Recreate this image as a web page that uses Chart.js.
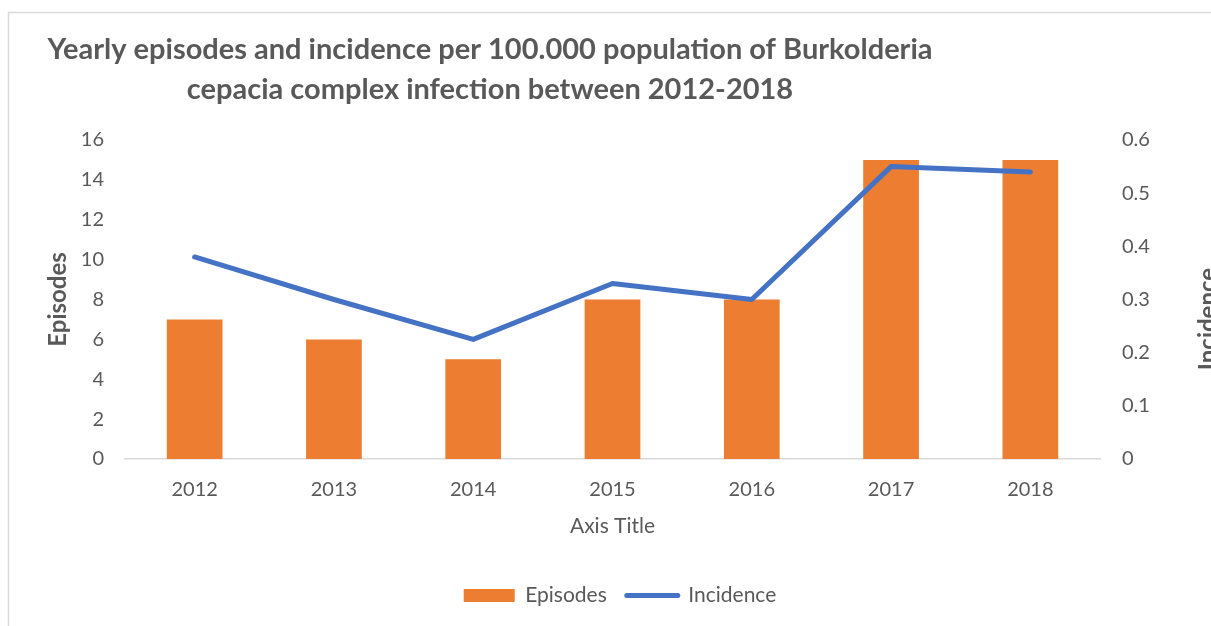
<!DOCTYPE html>
<html>
<head>
<meta charset="utf-8">
<script src="https://cdn.jsdelivr.net/npm/chart.js@4.4.1/dist/chart.umd.min.js"></script>
<style>
  html, body { margin: 0; padding: 0; background: #fff; overflow: hidden; }
  canvas { display: block; }
</style>
</head>
<body>
<canvas id="chart" width="1240" height="626"></canvas>
<script>
const years = ['2012', '2013', '2014', '2015', '2016', '2017', '2018'];
const episodes = [7, 6, 5, 8, 8, 15, 15];
const incidence = [0.38, 0.30, 0.225, 0.33, 0.30, 0.55, 0.54];
const titleLines = [
  'Yearly episodes and incidence per 100.000 population of Burkolderia',
  'cepacia complex infection between 2012-2018'
];

const textColor = '#595959';
const fontFamily = 'Lato, "Open Sans", sans-serif';

// title, right axis title and the outer frame are drawn here
const chartDecor = {
  id: 'chartDecor',
  beforeDraw(chart) {
    const ctx = chart.ctx;
    ctx.save();
    ctx.fillStyle = '#fff';
    ctx.fillRect(0, 0, chart.width, chart.height);
    ctx.strokeStyle = '#d9d9d9';
    ctx.lineWidth = 1.5;
    ctx.strokeRect(8.5, 12.5, chart.width + 20, chart.height + 20);
    ctx.restore();
  },
  afterDraw(chart) {
    const ctx = chart.ctx;
    ctx.save();
    ctx.fillStyle = textColor;
    ctx.textAlign = 'center';
    ctx.textBaseline = 'middle';
    ctx.font = 'bold 29px ' + fontFamily;
    ctx.fillText(titleLines[0], 490, 50);
    ctx.fillText(titleLines[1], 490, 90);

    ctx.font = 'bold 24px ' + fontFamily;
    ctx.translate(1208, 319);
    ctx.rotate(-Math.PI / 2);
    ctx.fillText('Incidence', 0, 0);
    ctx.restore();
  }
};

const ctx = document.getElementById('chart').getContext('2d');

new Chart(ctx, {
  type: 'bar',
  data: {
    labels: years,
    datasets: [
      {
        type: 'bar',
        label: 'Episodes',
        data: episodes,
        backgroundColor: '#ED7D31',
        barPercentage: 0.4,
        categoryPercentage: 1.0,
        yAxisID: 'y',
        order: 1
      },
      {
        type: 'line',
        label: 'Incidence',
        data: incidence,
        borderColor: '#4472C4',
        backgroundColor: '#4472C4',
        borderWidth: 5,
        borderCapStyle: 'round',
        borderJoinStyle: 'round',
        pointRadius: 0,
        tension: 0,
        yAxisID: 'y1',
        order: 0
      }
    ]
  },
  options: {
    responsive: false,
    animation: false,
    layout: {
      padding: { top: 140, bottom: 10, left: 0, right: 0 }
    },
    scales: {
      x: {
        grid: { display: false, drawTicks: false },
        border: { color: '#d9d9d9', width: 1.5 },
        ticks: { color: textColor, font: { family: fontFamily, size: 20 }, padding: 19 },
        title: {
          display: true,
          text: 'Axis Title',
          color: textColor,
          font: { family: fontFamily, size: 21 },
          padding: { top: 26, bottom: 26 }
        },
        afterFit(scale) { scale.height = 106; }
      },
      y: {
        position: 'left',
        min: 0,
        max: 16,
        grid: { display: false, drawTicks: false },
        border: { display: false },
        ticks: { stepSize: 2, color: textColor, font: { family: fontFamily, size: 20 }, padding: 21 },
        title: {
          display: true,
          text: 'Episodes',
          color: textColor,
          font: { family: fontFamily, size: 24, weight: 'bold' },
          padding: { top: 44, bottom: 44 }
        },
        afterFit(scale) { scale.width = 125; }
      },
      y1: {
        position: 'right',
        min: 0,
        max: 0.6,
        grid: { display: false, drawTicks: false },
        border: { display: false },
        ticks: {
          stepSize: 0.1,
          color: textColor,
          font: { family: fontFamily, size: 20 },
          padding: 22,
          callback: (v) => +v.toFixed(1)
        },
        afterFit(scale) { scale.width = 140; }
      }
    },
    plugins: {
      title: { display: false },
      tooltip: { enabled: false },
      legend: {
        position: 'bottom',
        labels: {
          color: textColor,
          font: { family: fontFamily, size: 21 },
          usePointStyle: true,
          pointStyleWidth: 51,
          boxHeight: 13,
          padding: 20,
          generateLabels(chart) {
            return chart.data.datasets.map((ds, i) => ({
              text: ds.label,
              datasetIndex: i,
              fillStyle: ds.backgroundColor,
              strokeStyle: ds.type === 'line' ? ds.borderColor : ds.backgroundColor,
              lineWidth: ds.type === 'line' ? 5 : 0,
              lineCap: 'round',
              pointStyle: ds.type === 'line' ? 'line' : 'rect',
              fontColor: textColor,
              hidden: false
            }));
          }
        }
      }
    }
  },
  plugins: [chartDecor]
});
</script>
</body>
</html>
